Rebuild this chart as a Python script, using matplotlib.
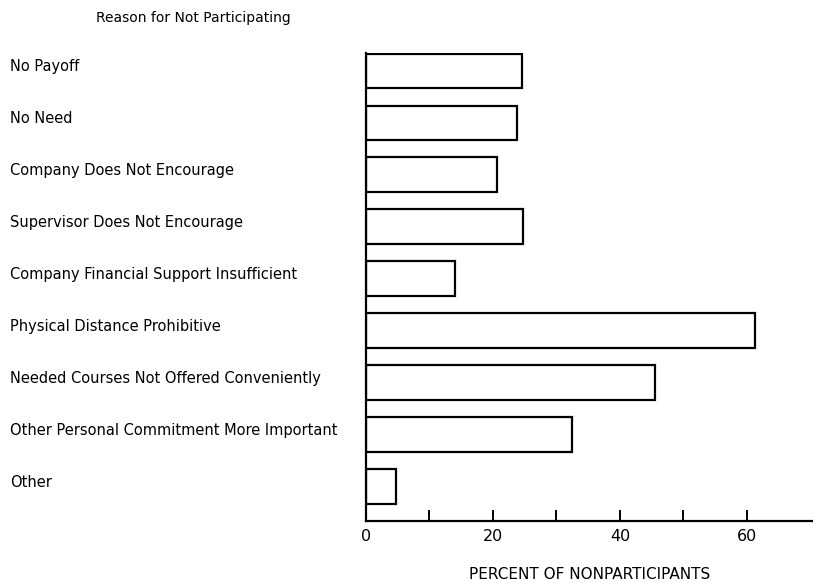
import matplotlib
matplotlib.use('Agg')
import matplotlib.pyplot as plt
import matplotlib.transforms as mtransforms
import numpy as np

# reasons, top to bottom
reasons = [
    'No Payoff',
    'No Need',
    'Company Does Not Encourage',
    'Supervisor Does Not Encourage',
    'Company Financial Support Insufficient',
    'Physical Distance Prohibitive',
    'Needed Courses Not Offered Conveniently',
    'Other Personal Commitment More Important',
    'Other',
]
percent = [24.6, 23.8, 20.7, 24.8, 14.0, 61.2, 45.5, 32.4, 4.7]

major_ticks = [0, 20, 40, 60]
minor_ticks = [10, 30, 50]

plt.rcParams['font.family'] = ['DejaVu Sans']

fig = plt.figure(figsize=(8.13, 5.83), dpi=100)
ax = fig.add_axes([0.450, 0.1063, 0.550, 0.803])

y = np.arange(len(reasons))
ax.barh(y, percent, height=0.67, color='white', edgecolor='black', linewidth=1.6)

ax.set_ylim(8.67, -0.35)
ax.set_xlim(0, 70.4)
ax.set_yticks([])
ax.set_xticks(major_ticks)
ax.set_xticks(minor_ticks, minor=True)
ax.tick_params(axis='x', which='both', direction='in', length=8, width=1.4,
               pad=6, labelsize=11.5)
ax.spines['top'].set_visible(False)
ax.spines['right'].set_visible(False)
ax.spines['left'].set_linewidth(1.6)
ax.spines['bottom'].set_linewidth(1.6)
ax.set_xlabel('PERCENT OF NONPARTICIPANTS', fontsize=11, labelpad=16)

# category labels: x in pixels from the figure edge, y in data units
label_tr = mtransforms.blended_transform_factory(
    mtransforms.IdentityTransform(), ax.transData)
for yi, name in zip(y, reasons):
    ax.text(10, yi - 0.08, name, transform=label_tr,
            ha='left', va='center', fontsize=10.5)

fig.text(193 / 813, 1 - 18 / 583, 'Reason for Not Participating',
         ha='center', va='center', fontsize=10)

fig.savefig('out.png', dpi=100)
